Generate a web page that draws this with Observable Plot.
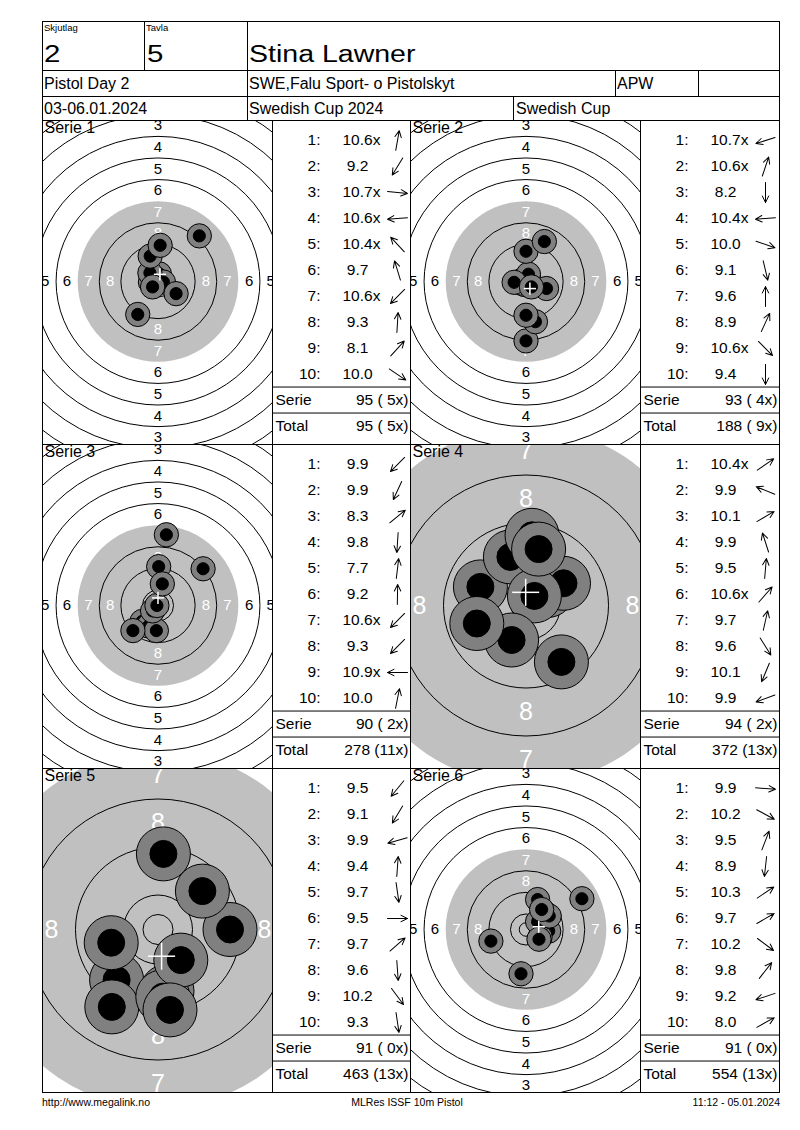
<!DOCTYPE html>
<html><head><meta charset="utf-8">
<script src="https://cdn.jsdelivr.net/npm/d3@7"></script>
<script src="https://cdn.jsdelivr.net/npm/@observablehq/plot@0.6"></script>
<style>
html, body { margin:0; padding:0; background:#fff; }
#page { position: relative; width: 800px; height: 1130px; font-family: "Liberation Sans", Arial, sans-serif; color: #000; overflow: hidden; background:#fff; }
.ln { position: absolute; background: #000; }
.tx { position: absolute; white-space: pre; line-height: 1; }
.panel { position: absolute; overflow: hidden; }
.panel svg { overflow: hidden !important; display: block; }
svg text { white-space: pre; }
</style></head><body><div id="page"></div>
<script>
// ---------- header / footer texts ----------
const headerLabels = ["Skjutlag", "Tavla"];
const headerValues = ["2", "5"];
const shooterName = "Stina Lawner";
const row2Texts = ["Pistol Day 2", "SWE,Falu Sport- o Pistolskyt", "APW"];
const row3Texts = ["03-06.01.2024", "Swedish Cup 2024", "Swedish Cup"];
const footerTexts = ["http://www.megalink.no", "MLRes ISSF 10m Pistol", "11:12 - 05.01.2024"];

// ---------- target geometry (ISSF 10m pistol, mm) ----------
const ringValues = [1, 2, 3, 4, 5, 6, 7, 8, 9, 10];
const ringRadius = [77.75, 69.75, 61.75, 53.75, 45.75, 37.75, 29.75, 21.75, 13.75, 5.75];
const innerTenRadius = 2.5;
const pelletRadius = 2.25;
const haloRadius = 4.5;
const labelledRings = [1, 2, 3, 4, 5, 6, 7, 8];

// ---------- series ----------
const serieNames = ["Serie 1", "Serie 2", "Serie 3", "Serie 4", "Serie 5", "Serie 6"];
const zoomedView = [false, false, false, true, true, false];

const scores1 = ["10.6x", "9.2", "10.7x", "10.6x", "10.4x", "9.7", "10.6x", "9.3", "8.1", "10.0"];
const scores2 = ["10.7x", "10.6x", "8.2", "10.4x", "10.0", "9.1", "9.6", "8.9", "10.6x", "9.4"];
const scores3 = ["9.9", "9.9", "8.3", "9.8", "7.7", "9.2", "10.6x", "9.3", "10.9x", "10.0"];
const scores4 = ["10.4x", "9.9", "10.1", "9.9", "9.5", "10.6x", "9.7", "9.6", "10.1", "9.9"];
const scores5 = ["9.5", "9.1", "9.9", "9.4", "9.7", "9.5", "9.7", "9.6", "10.2", "9.3"];
const scores6 = ["9.9", "10.2", "9.5", "8.9", "10.3", "9.7", "10.2", "9.8", "9.2", "8.0"];

// shot positions [x right, y up] in mm from target centre
const shots1 = [[0.5, 2.8], [-7.5, -12.2], [2.0, -0.2], [-2.8, -0.2], [-3.0, 3.2], [-2.9, 9.4], [-2.0, -2.0], [0.8, 13.4], [15.3, 16.9], [6.7, -4.5]];
const shots2 = [[-1.9, -0.6], [0.9, 2.7], [0.0, -22.0], [-4.4, -0.3], [7.6, -2.6], [3.5, -14.9], [0.0, 11.2], [6.8, 14.8], [2.0, -2.0], [0.0, -12.5]];
const shots3 = [[-5.9, -5.9], [-3.5, -7.6], [16.7, 13.6], [-0.6, -9.3], [3.1, 26.2], [0.25, 14.4], [-2.0, -2.0], [-9.3, -9.3], [-0.4, 0.0], [1.6, 8.0]];
const shots4 = [[3.6, 2.5], [-7.6, 3.1], [6.25, 3.7], [-2.6, 8.1], [1.0, 11.7], [1.4, 1.6], [2.1, 9.4], [5.9, -9.4], [-2.4, -5.75], [-8.2, -3.0]];
const shots5 = [[-6.9, -8.4], [-7.7, -12.9], [-7.8, -2.2], [0.9, 12.6], [1.5, -10.3], [12.0, 0.0], [7.4, 6.4], [0.8, -11.2], [3.8, -5.1], [2.0, -13.4]];
const shots6 = [[8.4, -0.6], [5.2, -2.8], [4.3, 11.1], [-1.85, -16.4], [4.3, 2.9], [8.6, 5.0], [4.8, -3.6], [5.8, 7.4], [-13.0, -4.3], [20.7, 11.4]];

const serieTotals = [95, 93, 90, 94, 91, 91];
const serieInner = [5, 4, 2, 2, 0, 0];
const runningTotals = [95, 188, 278, 372, 463, 554];
const runningInner = [5, 9, 11, 13, 13, 13];
const summaryLabels = ["Serie", "Total"];

const allScores = [scores1, scores2, scores3, scores4, scores5, scores6];
const allShots = [shots1, shots2, shots3, shots4, shots5, shots6];

// ---------- layout (styles) ----------
const page = document.getElementById("page");
const FONT = '"Liberation Sans", Arial, sans-serif';
const rowTops = [121, 445, 769];
const panelH = 323;
const targetLefts = [43, 411];
const targetW = 229;
const tableLefts = [273, 641];
const tableWs = [137, 138];
const tableFont = 15.5;

function put(text, x, baseline, size, opts = {}) {
  const d = document.createElement("div");
  d.className = "tx";
  d.textContent = text;
  d.style.fontSize = size + "px";
  d.style.top = (baseline - 0.8465 * size) + "px";
  let tf = "";
  if (opts.anchor === "end") { d.style.right = (800 - x) + "px"; }
  else if (opts.anchor === "middle") { d.style.left = x + "px"; tf += "translateX(-50%) "; }
  else d.style.left = x + "px";
  if (opts.scaleX) { tf += `scaleX(${opts.scaleX})`; d.style.transformOrigin = "0 0"; }
  if (tf) d.style.transform = tf;
  page.appendChild(d);
}
function hline(y, x1, x2) {
  const d = document.createElement("div"); d.className = "ln";
  Object.assign(d.style, {left: x1 + "px", top: y + "px", width: (x2 - x1 + 1) + "px", height: "1px"});
  page.appendChild(d);
}
function vline(x, y1, y2) {
  const d = document.createElement("div"); d.className = "ln";
  Object.assign(d.style, {left: x + "px", top: y1 + "px", width: "1px", height: (y2 - y1 + 1) + "px"});
  page.appendChild(d);
}
function mount(svg, left, top) {
  const d = document.createElement("div");
  d.className = "panel";
  d.style.left = left + "px"; d.style.top = top + "px";
  d.appendChild(svg);
  page.appendChild(d);
}

const plotStyle = {background: "white", fontFamily: FONT, fontSize: "16px", overflow: "hidden", color: "black"};

const arrowShape = {
  draw(context, l) {
    context.moveTo(0, 0);
    context.lineTo(0, -l);
    context.moveTo(-3.2, -l + 6.5);
    context.lineTo(0, -l);
    context.lineTo(3.2, -l + 6.5);
  }
};

function targetPlot(i) {
  const k = zoomedView[i] ? 6 : 2.7; // px per mm
  const W = targetW, H = panelH;
  const hx = W / 2 / k, hy = H / 2 / k;
  const lift = 1.5 / k; // ring centre sits slightly above the panel middle
  const disc = [{x: 0, y: 0, r: ringRadius[ringValues.indexOf(7)]}];
  const lines = ringValues.filter(v => v !== 7).map(v => ({x: 0, y: 0, r: ringRadius[v - 1]}))
    .concat([{x: 0, y: 0, r: innerTenRadius}]);
  const labels = [];
  for (const v of labelledRings) {
    const rr = (ringRadius[v - 1] + ringRadius[v]) / 2;
    for (const [ux, uy] of [[0, 1], [0, -1], [-1, 0], [1, 0]]) {
      labels.push({x: ux * rr, y: uy * rr, v: String(v), fill: v >= 7 ? "white" : "black"});
    }
  }
  const shots = allShots[i];
  const parts = shots.flatMap(([x, y]) => [
    {x, y, r: haloRadius, fill: "#808080"},
    {x, y, r: pelletRadius, fill: "black"}
  ]);
  const mx = d3.mean(shots, d => d[0]), my = d3.mean(shots, d => d[1]);
  const cross = [
    {x1: mx - pelletRadius, y1: my, x2: mx + pelletRadius, y2: my},
    {x1: mx, y1: my - pelletRadius, x2: mx, y2: my + pelletRadius}
  ];
  return Plot.plot({
    width: W, height: H, margin: 0,
    style: plotStyle,
    x: {domain: [-hx, hx], axis: null},
    y: {domain: [-hy - lift, hy - lift], axis: null},
    r: {type: "linear", domain: [0, 10], range: [0, 10 * k]},
    color: {type: "identity"},
    marks: [
      Plot.dot(disc, {x: "x", y: "y", r: "r", fill: "#c0c0c0", stroke: "none"}),
      Plot.dot(lines, {x: "x", y: "y", r: "r", stroke: "black", strokeWidth: 1, fill: "none", sort: null}),
      Plot.text(labels, {x: "x", y: "y", text: "v", fill: "fill", fontSize: zoomedView[i] ? 25 : 15}),
      Plot.dot(parts, {x: "x", y: "y", r: "r", fill: "fill", stroke: "black", strokeWidth: 1, sort: null}),
      Plot.link(cross, {x1: "x1", y1: "y1", x2: "x2", y2: "y2", stroke: "white", strokeWidth: 1.5}),
      Plot.text([serieNames[i]], {frameAnchor: "top-left", dx: 1, dy: 0, fontSize: 16, fill: "black"})
    ]
  });
}

function fmtSum(v, x) { return `${v} (${x < 10 ? " " + x : x}x)`; }

function tablePlot(i, W) {
  const H = panelH;
  const scores = allScores[i], shots = allShots[i];
  const rowKeys = scores.map((_, j) => String(j + 1)).concat(summaryLabels);
  const rows = scores.map((s, j) => ({
    key: String(j + 1),
    num: `${j + 1}:`,
    score: (parseFloat(s) < 10 ? "\u00a0" : "") + s,
    angle: Math.atan2(shots[j][0], shots[j][1]) * 180 / Math.PI
  }));
  const summary = [
    {key: "Serie", value: fmtSum(serieTotals[i], serieInner[i])},
    {key: "Total", value: fmtSum(runningTotals[i], runningInner[i])}
  ];
  const step = H / rowKeys.length;
  return Plot.plot({
    width: W, height: H, margin: 0,
    style: plotStyle,
    y: {type: "point", domain: rowKeys, padding: 0.5, axis: null},
    marks: [
      Plot.ruleY(summaryLabels, {dy: -step / 2, stroke: "black", strokeWidth: 1}),
      Plot.text(rows, {y: "key", text: "num", frameAnchor: "left", dx: 47, textAnchor: "end", fontSize: tableFont}),
      Plot.text(rows, {y: "key", text: "score", frameAnchor: "left", dx: 69, textAnchor: "start", fontSize: tableFont}),
      Plot.vector(rows, {y: "key", rotate: "angle", length: 20, anchor: "middle", frameAnchor: "left", dx: 124,
        stroke: "black", strokeWidth: 1, shape: arrowShape}),
      Plot.text(summary, {y: "key", text: "key", frameAnchor: "left", dx: 2, textAnchor: "start", fontSize: tableFont}),
      Plot.text(summary, {y: "key", text: "value", frameAnchor: "right", dx: -2, textAnchor: "end", fontSize: tableFont})
    ]
  });
}

// ---------- panels ----------
for (let i = 0; i < 6; i++) {
  const row = Math.floor(i / 2), col = i % 2;
  mount(targetPlot(i), targetLefts[col], rowTops[row]);
  mount(tablePlot(i, tableWs[col]), tableLefts[col], rowTops[row]);
}

// ---------- header texts ----------
put(headerLabels[0], 44, 31.5, 9.5);
put(headerLabels[1], 146, 31.5, 9.5);
put(headerValues[0], 44, 62, 23, {scaleX: 1.28});
put(headerValues[1], 147, 62, 23, {scaleX: 1.28});
put(shooterName, 249, 62, 23, {scaleX: 1.24});
put(row2Texts[0], 44, 90, 16);
put(row2Texts[1], 249, 90, 16);
put(row2Texts[2], 617, 90, 16);
put(row3Texts[0], 44, 115, 16);
put(row3Texts[1], 249, 115, 16);
put(row3Texts[2], 516, 115, 16);
put(footerTexts[0], 42, 1106, 10.5);
put(footerTexts[1], 407, 1106, 10.5, {anchor: "middle"});
put(footerTexts[2], 780, 1106, 10.5, {anchor: "end"});

// ---------- grid lines ----------
hline(21, 42, 779); hline(70, 42, 779); hline(96, 42, 779); hline(120, 42, 779);
hline(444, 42, 779); hline(768, 42, 779); hline(1092, 42, 779);
vline(42, 21, 1092); vline(779, 21, 1092);
vline(144, 21, 70); vline(247, 21, 120);
vline(615, 70, 96); vline(698, 70, 96); vline(513, 96, 120);
vline(272, 120, 1092); vline(410, 120, 1092); vline(640, 120, 1092);
</script></body></html>
